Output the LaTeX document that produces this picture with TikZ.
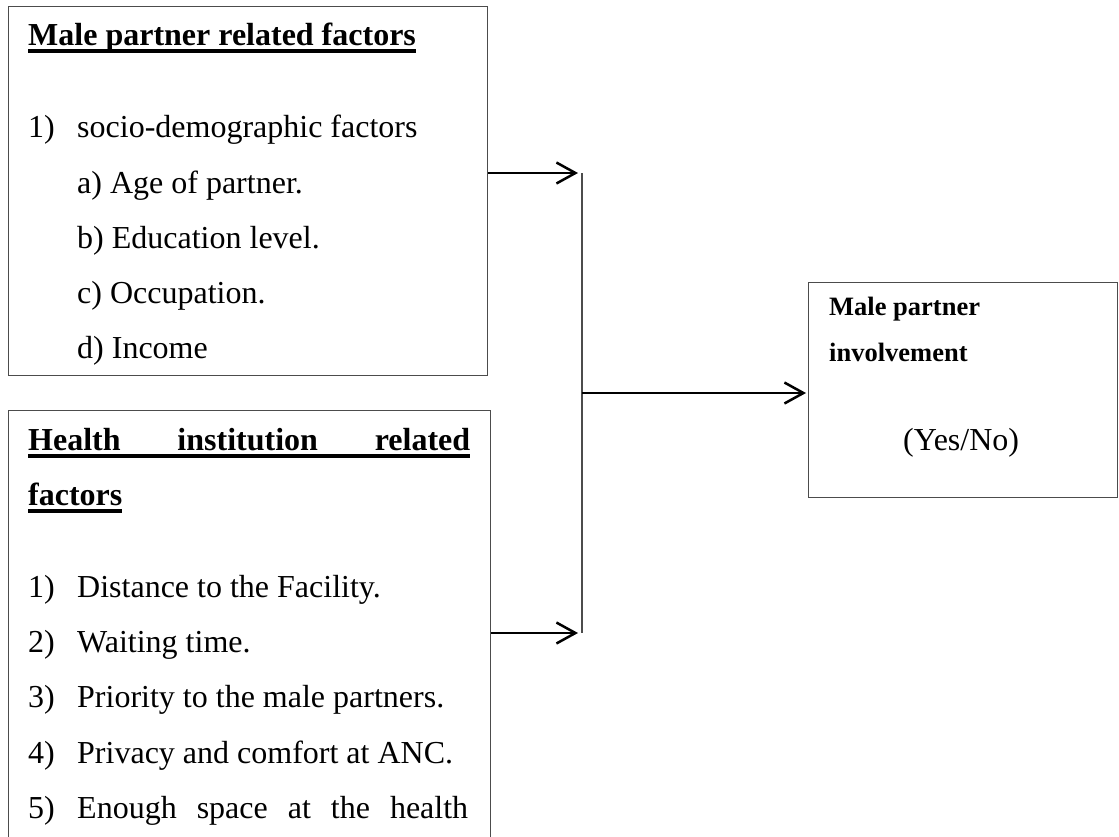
\documentclass[tikz,border=0pt]{standalone}
\usepackage{fontspec}
\setmainfont{Liberation Serif}
\usetikzlibrary{arrows.meta}
\newcommand\myul[1]{\setbox0\hbox{#1}\leavevmode\rlap{\copy0}\rule[-7.5pt]{\wd0}{3.2pt}}
\tikzset{
  box/.style={draw=black!70, line width=1.3pt, inner sep=0pt, anchor=north west},
  txt/.style={anchor=base west, inner sep=0pt, font=\fontsize{32}{38}\selectfont},
  small/.style={anchor=base west, inner sep=0pt, font=\fontsize{26.5}{32}\selectfont\bfseries},
  arr/.style={line width=2.5pt, -{Straight Barb[length=19pt,width=21pt,line width=2.5pt]}},
  rail/.style={draw=black!70, line width=1.3pt}
}
\begin{document}
\begin{tikzpicture}[x=1pt,y=-1pt]
\useasboundingbox (0,0) rectangle (1119,836);
\clip (0,0) rectangle (1119,836);
% boxes
\node[box, minimum width=479pt, minimum height=369pt] (b1) at (8,6) {};
\node[box, minimum width=482pt, minimum height=500pt] (b2) at (8,410) {};
\node[box, minimum width=309pt, minimum height=215pt] (out) at (808,282) {};
% box 1 text
\node[txt] (t1h) at (28,45) {\bfseries\myul{Male partner related factors}};
\node[txt] (t1n) at (28,137) {1)};
\node[txt] (t1a) at (77,137) {socio-demographic factors};
\node[txt] (t1b) at (77,193) {a) Age of partner.};
\node[txt] (t1c) at (77,248) {b) Education level.};
\node[txt] (t1d) at (77,303) {c) Occupation.};
\node[txt] (t1e) at (77,358) {d) Income};
% box 2 text
\node[txt] (t2h) at (28,450) {\bfseries\myul{\makebox[442pt][s]{Health\hfill institution\hfill related}}};
\node[txt] (t2h2) at (28,505) {\bfseries\myul{factors}};
\node[txt] (n1) at (28,597) {1)};
\node[txt] (i1) at (77,597) {Distance to the Facility.};
\node[txt] (n2) at (28,652) {2)};
\node[txt] (i2) at (77,652) {Waiting time.};
\node[txt] (n3) at (28,707) {3)};
\node[txt] (i3) at (77,707) {Priority to the male partners.};
\node[txt] (n4) at (28,763) {4)};
\node[txt] (i4) at (77,763) {Privacy and comfort at ANC.};
\node[txt] (n5) at (28,818) {5)};
\node[txt] (i5) at (77,818) {\makebox[391pt][s]{Enough\hfill space\hfill at\hfill the\hfill health}};
% outcome box text
\node[small] (o1) at (829,315) {Male partner};
\node[small] (o2) at (829,361) {involvement};
\node[txt] (o3) at (903,450) {(Yes/No)};
% connectors
\coordinate (tipA) at (578,173);
\coordinate (tipB) at (578,633);
\coordinate (jA) at (582,173);
\coordinate (jB) at (582,633);
\coordinate (jM) at (582,393);
\draw[arr] (b1.east |- tipA) -- (tipA);
\draw[arr] (b2.east |- tipB) -- (tipB);
\draw[rail] (jA) -- (jB);
\draw[arr] (jM) -- ([xshift=-2pt]out.west |- jM);
\end{tikzpicture}
\end{document}
